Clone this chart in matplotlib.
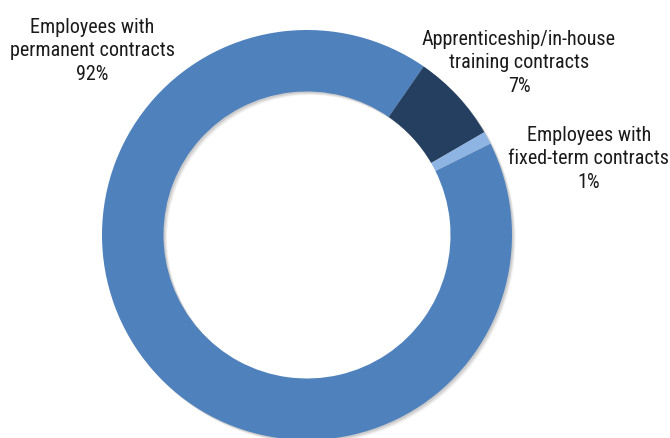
import matplotlib
matplotlib.use('Agg')
import matplotlib.pyplot as plt
import matplotlib.transforms as mtransforms

# Datos
categories = ['Employees with\npermanent contracts',
              'Apprenticeship/in-house\ntraining contracts',
              'Employees with\nfixed-term contracts']
shares = [92, 7, 1]
colors = ['#4F81BD', '#243F60', '#8DB4E2']

# Fuente estrecha parecida a Arial Narrow
plt.rcParams['font.family'] = ['Roboto Condensed', 'Archivo Narrow', 'Liberation Sans', 'DejaVu Sans']

W, H = 670, 438
fig = plt.figure(figsize=(W / 100, H / 100), dpi=100)

# Ejes cuadrados: centro (307, 235) px, radio 205 px
cx, cy, r = 307, 235, 205
ax = fig.add_axes([(cx - r) / W, (H - cy - r) / H, 2 * r / W, 2 * r / H])
ax.set_xlim(-1, 1)
ax.set_ylim(-1, 1)
ax.set_aspect('equal')
ax.axis('off')

ring = dict(width=0.30, edgecolor='none')

# Sombra suave desplazada hacia abajo a la derecha
for k, a in [(3.5, 0.10), (2.5, 0.15), (1.5, 0.2)]:
    off = mtransforms.offset_copy(ax.transData, fig=fig, x=k, y=-k, units='dots')
    wedges, _ = ax.pie(shares, startangle=26.5, counterclock=False, radius=1,
                       colors=['#7f7f7f'] * 3, wedgeprops=ring)
    for w in wedges:
        w.set_transform(off)
        w.set_alpha(a)

ax.pie(shares, startangle=26.5, counterclock=False, radius=1,
       colors=colors, wedgeprops=ring)
ax.set_xlim(-1, 1)
ax.set_ylim(-1, 1)

# Etiquetas
label_pos = [(92, 51), (519, 63), (589, 159)]
for cat, val, (px, py) in zip(categories, shares, label_pos):
    fig.text(px / W, 1 - py / H, f'{cat}\n{val}%', ha='center', va='center',
             fontsize=14.5, color='#1a1a1a', linespacing=1.3)

fig.savefig('out.png', dpi=100)
